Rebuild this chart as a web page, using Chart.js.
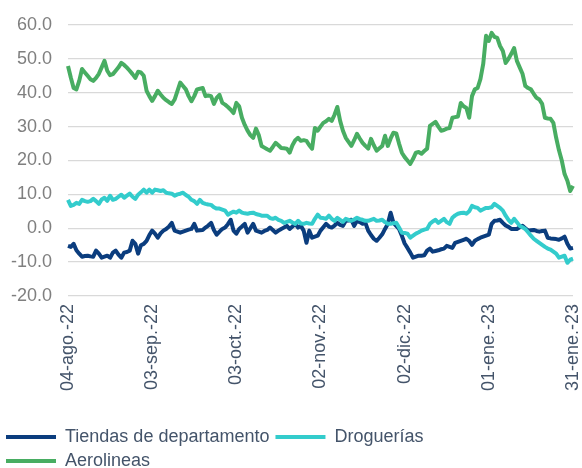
<!DOCTYPE html>
<html>
<head>
<meta charset="utf-8">
<script src="https://cdn.jsdelivr.net/npm/chart.js@4.4.1/dist/chart.umd.min.js"></script>
<style>
html,body{margin:0;padding:0;background:#fff;}
#wrap{width:582px;height:468px;}
</style>
</head>
<body>
<div id="wrap"><canvas id="c" width="582" height="468"></canvas></div>
<script>
// ---- data (daily, 04-ago-22 .. 31-ene-23) ----
const nDays = 181;
const tickLabels = ['04-ago.-22','03-sep.-22','03-oct.-22','02-nov.-22','02-dic.-22','01-ene.-23','31-ene.-23'];
const tickEvery = 30;

const seriesNames = ['Tiendas de departamento','Droguerías','Aerolineas'];

const tiendas = [
 -5.2,-5.5,-4.6,-6.5,-7.5,-8.4,-8.2,-8.1,-8.3,-8.4,
 -6.6,-7.5,-8.7,-8.4,-8.1,-8.7,-7.2,-6.6,-7.8,-8.7,
 -7.2,-7.0,-6.6,-3.7,-4.6,-7.5,-5.0,-4.6,-3.7,-2.0,
 -0.7,-1.6,-2.8,-1.5,-0.7,-0.2,0.5,1.6,-0.7,-1.0,
 -1.3,-1.0,-0.7,-0.4,-0.2,1.3,-0.7,-0.6,-0.5,0.2,
 0.8,1.6,-0.5,-1.9,-1.0,-0.2,0.2,1.2,2.5,-0.7,
 -1.6,-0.2,0.5,1.3,-1.3,0.0,1.3,-0.7,-1.0,-1.3,
 -0.8,-0.5,0.2,-0.5,-1.3,-0.7,-0.2,0.2,0.7,-0.2,
 0.5,1.3,0.2,0.7,-0.7,-4.3,-0.7,-2.8,-2.5,-2.2,
 -0.7,0.3,1.3,0.5,0.2,0.8,1.6,1.0,0.7,2.2,
 2.3,2.5,0.7,2.2,1.8,1.3,1.6,-0.7,-2.0,-3.1,
 -3.7,-2.8,-1.8,-0.2,1.3,4.6,1.6,0.7,-0.2,-2.2,
 -4.5,-5.8,-7.2,-8.7,-8.4,-8.1,-8.1,-8.0,-6.6,-6.0,
 -6.9,-6.7,-6.5,-6.2,-6.0,-5.2,-5.5,-5.8,-4.3,-4.0,
 -3.7,-3.4,-3.1,-3.7,-4.9,-3.7,-3.2,-2.8,-2.5,-2.2,
 -1.9,1.3,2.2,2.3,2.5,1.6,0.8,0.4,-0.2,-0.2,
 -0.2,0.3,0.7,0.0,-0.7,-0.6,-0.5,-0.8,-1.0,-0.8,
 -0.7,-2.8,-3.0,-3.1,-3.2,-3.4,-3.0,-2.5,-4.6,-6.0,
 -5.8
];

const droguerias = [
 8.4,6.6,6.9,7.5,7.2,8.4,8.0,7.8,8.0,8.7,
 8.0,7.2,8.5,9.0,8.1,9.6,8.4,8.7,9.3,9.9,
 9.0,9.6,10.2,9.3,8.7,9.9,10.6,11.4,10.5,11.4,
 10.5,11.4,11.2,11.0,11.2,10.5,10.3,10.2,9.6,10.0,
 10.2,10.5,9.8,9.3,8.4,8.0,7.2,8.4,7.5,7.2,
 7.0,6.9,6.2,5.8,5.8,5.5,5.2,4.0,4.5,4.9,
 4.6,5.2,4.6,4.4,4.3,4.5,4.6,4.2,4.0,3.7,
 3.7,3.7,3.0,2.8,3.1,2.5,2.2,1.6,1.9,2.2,
 1.7,1.3,2.2,1.4,1.3,1.6,1.4,1.3,2.8,4.0,
 3.1,3.0,2.8,3.7,2.8,2.2,3.1,2.5,1.9,2.8,
 2.5,2.2,2.6,3.1,2.7,2.5,2.2,2.2,2.5,2.8,
 2.2,2.3,2.5,1.8,1.3,1.3,1.5,1.6,0.2,-1.3,
 -1.4,-1.6,-2.8,-2.2,-1.6,-1.2,-0.7,-0.4,-0.2,1.3,
 2.0,2.5,1.6,2.2,2.8,1.8,1.3,3.1,3.8,4.3,
 4.5,4.6,4.3,5.0,6.6,6.2,6.0,5.2,5.6,6.0,
 6.0,6.2,7.2,6.6,6.0,5.2,3.7,2.5,1.6,2.8,
 1.8,0.7,0.3,-0.2,-1.2,-2.2,-3.1,-3.7,-4.3,-4.9,
 -5.5,-6.0,-6.3,-6.9,-7.5,-8.7,-8.4,-8.1,-10.2,-9.3,
 -9.0
];

const aerolineas = [
 47.9,44.5,41.4,41.0,43.5,47.0,46.0,45.0,44.0,43.5,
 44.4,45.6,47.5,49.4,46.5,45.2,45.5,46.5,47.5,48.8,
 48.2,47.4,46.5,45.5,44.4,46.2,46.0,45.0,40.6,39.0,
 37.6,39.0,40.6,39.5,38.5,37.8,37.2,36.7,38.0,40.5,
 43.0,42.0,41.0,39.0,37.5,39.0,41.0,41.2,41.4,39.0,
 39.2,39.0,36.7,38.5,39.4,37.0,36.5,35.8,35.0,34.0,
 37.0,36.0,32.6,30.5,28.8,27.5,26.7,29.4,27.5,24.3,
 23.8,23.3,22.9,24.0,25.2,24.5,23.7,23.6,23.5,22.3,
 24.5,26.0,26.7,25.8,26.0,25.8,24.5,23.5,29.6,28.8,
 30.0,31.1,31.6,32.3,31.7,33.5,35.8,31.7,28.8,26.7,
 25.5,24.3,26.0,27.9,26.5,25.2,24.3,23.5,26.4,24.5,
 22.9,23.6,24.3,27.3,24.3,26.5,28.2,28.0,25.0,22.3,
 21.0,20.0,19.0,20.5,22.3,22.5,22.0,22.8,23.5,30.2,
 30.8,31.4,30.0,28.8,29.0,29.4,29.6,32.6,32.8,33.0,
 37.0,36.0,35.5,32.6,39.0,41.0,41.4,44.0,48.5,56.8,
 55.3,57.7,56.5,56.2,53.8,52.3,48.8,50.0,51.5,53.2,
 49.4,47.5,45.6,42.0,41.4,41.0,39.7,38.5,38.0,36.7,
 32.6,32.4,32.3,31.1,26.7,23.0,20.0,16.0,14.0,11.0,
 12.5
];

const yMin = -20, yMax = 60, yStep = 10;

// ---- build categories ----
const categories = [];
for (let i = 0; i < nDays; i++) {
  categories.push(i % tickEvery === 0 ? tickLabels[i / tickEvery] : '');
}

const colors = ['#0b3d7e', '#33cccc', '#48ad62'];
const FONT = "'Liberation Sans', Arial, sans-serif";

new Chart(document.getElementById('c'), {
  type: 'line',
  data: {
    labels: categories,
    datasets: [tiendas, droguerias, aerolineas].map((d, k) => ({
      label: seriesNames[k],
      data: d,
      borderColor: colors[k],
      backgroundColor: colors[k],
      borderWidth: 4,
      pointRadius: 0,
      tension: 0,
      borderJoinStyle: 'round',
      order: 3 - k
    }))
  },
  options: {
    responsive: false,
    animation: false,
    layout: { padding: { left: 0, right: 9, top: 25, bottom: -12 } },
    plugins: {
      tooltip: { enabled: false },
      legend: {
        position: 'bottom',
        align: 'start',
        labels: {
          boxWidth: 50,
          boxHeight: 4,
          padding: 6,
          color: '#44546a',
          font: { family: FONT, size: 18 },
          sort: (a, b) => a.datasetIndex - b.datasetIndex,
          generateLabels: (chart) => Chart.defaults.plugins.legend.labels.generateLabels(chart).map(l => Object.assign(l, { lineWidth: 0 }))
        }
      }
    },
    scales: {
      x: {
        type: 'category',
        offset: false,
        grid: { display: false, drawTicks: false },
        border: { display: false },
        ticks: {
          autoSkip: false,
          maxRotation: 90,
          minRotation: 90,
          padding: 8,
          color: '#44546a',
          font: { family: FONT, size: 18 }
        },
        afterFit: (s) => { s.height = 126; s.paddingLeft = 0; s.paddingRight = 0; }
      },
      y: {
        min: yMin,
        max: yMax,
        grid: { color: '#d9d9d9', lineWidth: 1.3, drawTicks: false },
        border: { display: false },
        ticks: {
          stepSize: yStep,
          padding: 16,
          color: '#7f7f7f',
          font: { family: FONT, size: 18 },
          callback: (v) => Number(v).toFixed(1)
        },
        afterFit: (s) => { s.width = 68; s.paddingTop = 0; s.paddingBottom = 0; }
      }
    }
  }
});
</script>
</body>
</html>
